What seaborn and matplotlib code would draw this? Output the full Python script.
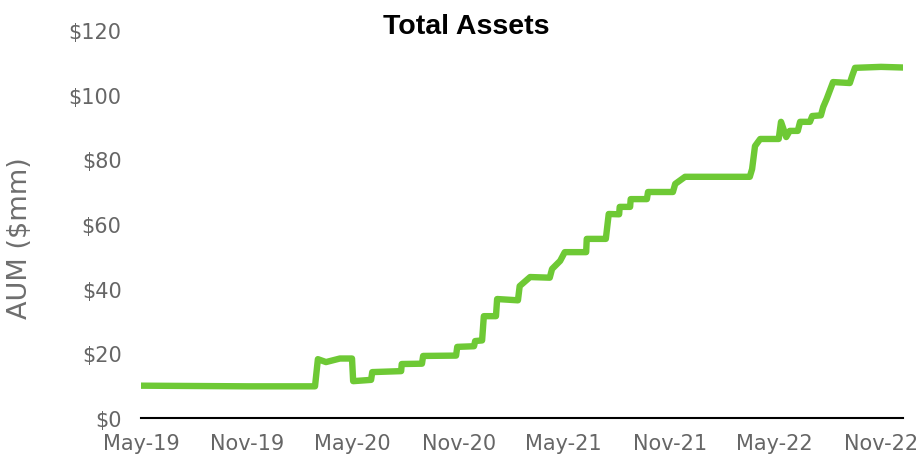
import pandas as pd
import matplotlib
matplotlib.use('Agg')
import matplotlib.pyplot as plt
import matplotlib.dates as mdates
import seaborn as sb

# data (AUM in $mm)
dates = [
    "2019-05-01", "2019-08-01", "2019-11-01", "2020-02-26", "2020-03-02",
    "2020-03-16", "2020-04-09", "2020-04-30", "2020-05-02", "2020-06-02",
    "2020-06-04", "2020-07-24", "2020-07-25", "2020-08-29", "2020-08-31",
    "2020-10-27", "2020-10-29", "2020-11-27", "2020-11-29", "2020-12-11",
    "2020-12-14", "2021-01-04", "2021-01-06", "2021-02-11", "2021-02-14",
    "2021-03-04", "2021-04-07", "2021-04-11", "2021-04-25", "2021-05-03",
    "2021-06-09", "2021-06-10", "2021-07-13", "2021-07-18", "2021-08-05",
    "2021-08-06", "2021-08-24", "2021-08-25", "2021-09-22", "2021-09-24",
    "2021-11-06", "2021-11-10", "2021-11-27", "2022-03-19", "2022-03-23",
    "2022-03-28", "2022-04-06", "2022-05-08", "2022-05-12", "2022-05-21",
    "2022-05-27", "2022-06-10", "2022-06-14", "2022-07-01", "2022-07-05",
    "2022-07-20", "2022-07-24", "2022-07-30", "2022-08-10", "2022-09-08",
    "2022-09-12", "2022-09-17", "2022-11-01", "2022-12-09",
]
aum = [
    10.0, 9.9, 9.8, 9.8, 18.2,
    17.3, 18.4, 18.4, 11.4, 11.8,
    14.2, 14.5, 16.7, 16.8, 19.2,
    19.3, 22.0, 22.2, 23.8, 24.0,
    31.5, 31.5, 36.8, 36.4, 40.8,
    43.6, 43.4, 46.1, 48.6, 51.3,
    51.3, 55.4, 55.4, 63.1, 63.0,
    65.3, 65.3, 67.7, 67.7, 69.9,
    69.9, 72.4, 74.6, 74.6, 77.0,
    84.1, 86.3, 86.3, 91.6, 86.9,
    88.8, 88.8, 91.6, 91.6, 93.4,
    93.6, 96.2, 98.7, 103.9, 103.6,
    105.8, 108.3, 108.6, 108.4,
]
y_ticks = [0, 20, 40, 60, 80, 100, 120]
x_ticks = ["2019-05-01", "2019-11-01", "2020-05-01", "2020-11-01",
           "2021-05-01", "2021-11-01", "2022-05-01", "2022-11-01"]

df = pd.DataFrame({"date": pd.to_datetime(dates), "aum": aum})

sb.set_theme(style="white")
plt.rcParams['font.family'] = ['DejaVu Sans']

fig = plt.figure(figsize=(9.19, 4.6), dpi=100)
ax = fig.add_axes([0.1534, 0.0891, 0.8292, 0.8435])

sb.lineplot(data=df, x="date", y="aum", color="#6EC935", linewidth=4.6,
            solid_capstyle="round", solid_joinstyle="round", ax=ax)

ax.set_ylim(0, 120)
ax.set_xlim(pd.Timestamp("2019-05-01"), pd.Timestamp("2022-12-09"))
ax.set_yticks(y_ticks)
ax.set_yticklabels([f"${v}" for v in y_ticks])
ax.set_xticks(pd.to_datetime(x_ticks))
ax.xaxis.set_major_formatter(mdates.DateFormatter("%b-%y"))
ax.tick_params(axis="both", length=0, labelsize=15, labelcolor="#666666")
ax.tick_params(axis="y", pad=14)
ax.tick_params(axis="x", pad=11)

for s in ["top", "right", "left"]:
    ax.spines[s].set_visible(False)
ax.spines["bottom"].set_color("black")
ax.spines["bottom"].set_linewidth(1.5)

ax.set_xlabel("")
ax.set_ylabel("")
fig.text(20 / 919, 1 - 238 / 460, "AUM ($mm)", rotation=90, ha="center",
         va="center", fontsize=19.5, color="#6e6e6e")
fig.text(0.507, 0.941, "Total Assets", ha="center", va="center",
         fontsize=20.5, fontweight="bold", color="black",
         family=["Liberation Sans", "DejaVu Sans"])

fig.savefig("out.png", dpi=100)
